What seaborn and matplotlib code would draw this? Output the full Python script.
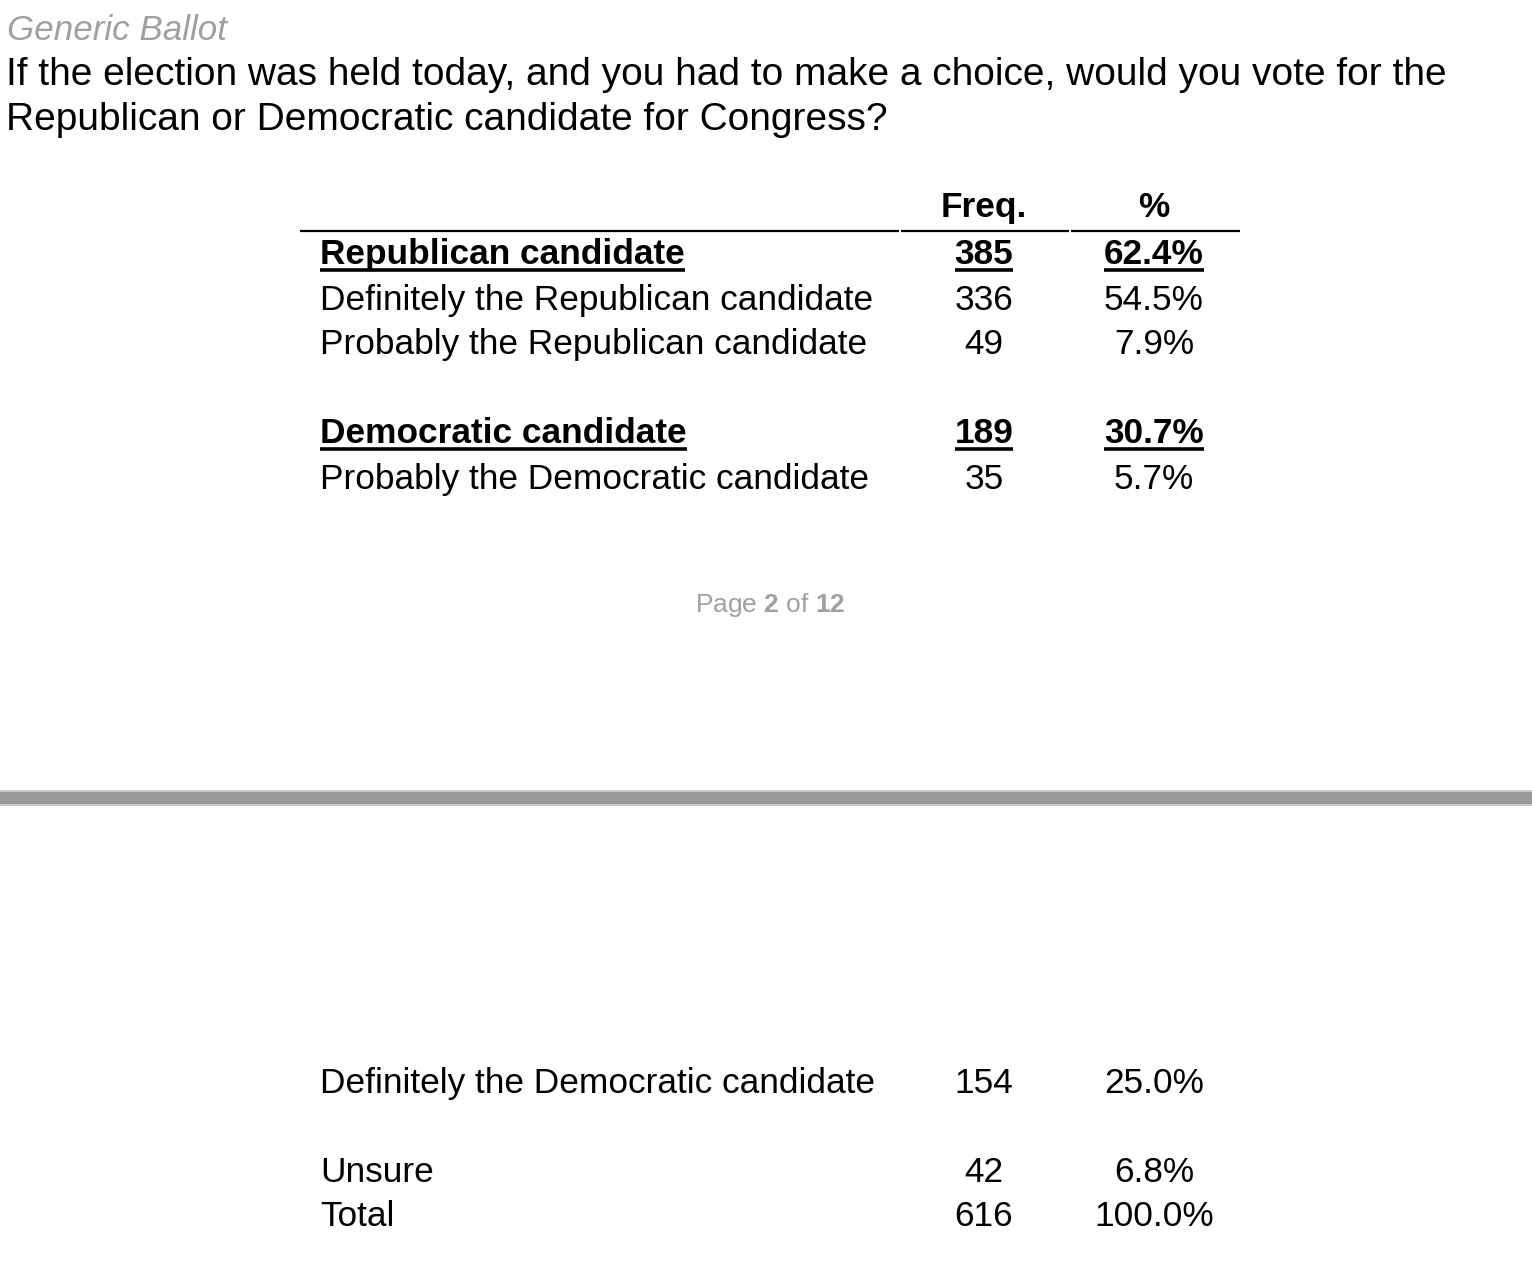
import matplotlib
matplotlib.use("Agg")
import matplotlib.pyplot as plt
import seaborn as sns

sns.set_theme(style="white")
plt.rcParams['font.family'] = ['Liberation Sans', 'DejaVu Sans']
plt.rcParams['text.color'] = 'black'
plt.rcParams['mathtext.fontset'] = 'custom'
plt.rcParams['mathtext.rm'] = 'Liberation Sans'
plt.rcParams['mathtext.bf'] = 'Liberation Sans:bold'

# ---- data ----
supertitle = "Generic Ballot"
question = ["If the election was held today, and you had to make a choice, would you vote for the",
            "Republican or Democratic candidate for Congress?"]
col_headers = ["Freq.", "%"]
labels = ["Republican candidate", "Definitely the Republican candidate", "Probably the Republican candidate",
          "Democratic candidate", "Probably the Democratic candidate",
          "Definitely the Democratic candidate", "Unsure", "Total"]
freqs = [385, 336, 49, 189, 35, 154, 42, 616]
pcts = [62.4, 54.5, 7.9, 30.7, 5.7, 25.0, 6.8, 100.0]
is_subtotal = [True, False, False, True, False, False, False, False]
page_num, page_total = 2, 12

# ---- layout (pixels) ----
W, H = 1532, 1274
row_base = [264, 310, 354, 443, 489, 1093, 1182, 1226]
x_label, x_freq, x_pct = 320, 984, 1154
fs_row = 25.4

fig = plt.figure(figsize=(W / 100, H / 100), dpi=100)
ax = fig.add_axes([0, 0, 1, 1])
ax.set_xlim(0, W)
ax.set_ylim(H, 0)
ax.axis("off")

ax.text(7, 31, supertitle, fontsize=25.2, style="italic", color="#a0a0a0", va="center", ha="left")
for i, line in enumerate(question):
    ax.text(6, 75 + 45 * i, line, fontsize=28, color="black", va="center", ha="left")

ax.text(x_freq, 217, col_headers[0], fontsize=fs_row, weight="bold", ha="center", va="baseline", color="black")
ax.text(x_pct, 217, col_headers[1], fontsize=fs_row, weight="bold", ha="center", va="baseline", color="black")
for a, b in [(300, 899), (901, 1069), (1071, 1240)]:
    ax.plot([a, b], [231, 231], color="black", lw=1.6, solid_capstyle="butt")

fig.canvas.draw()
renderer = fig.canvas.get_renderer()
inv = ax.transData.inverted()

def put(x, y, s, ha, bold):
    t = ax.text(x, y, s, fontsize=fs_row, ha=ha, va="baseline",
                weight="bold" if bold else "normal", color="black")
    if bold:
        bb = t.get_window_extent(renderer=renderer)
        (x0, _), (x1, _) = inv.transform([[bb.x0, 0], [bb.x1, 0]])
        ax.plot([x0, x1], [y + 5.5, y + 5.5], color="black", lw=2.6, solid_capstyle="butt")

for lab, f, p, sub, y in zip(labels, freqs, pcts, is_subtotal, row_base):
    put(x_label, y, lab, "left", sub)
    put(x_freq, y, f"{f}", "center", sub)
    put(x_pct, y, f"{p:.1f}%", "center", sub)

# page footer
ax.text(770, 605, f"Page $\\bf{{{page_num}}}$ of $\\bf{{{page_total}}}$", fontsize=19,
        color="#a0a0a0", ha="center", va="center")

# page separator band
ax.fill_between([0, W], 790, 806, color="#c8c8c8", lw=0)
ax.fill_between([0, W], 792, 804, color="#999999", lw=0)

fig.savefig("out.png", dpi=100)
